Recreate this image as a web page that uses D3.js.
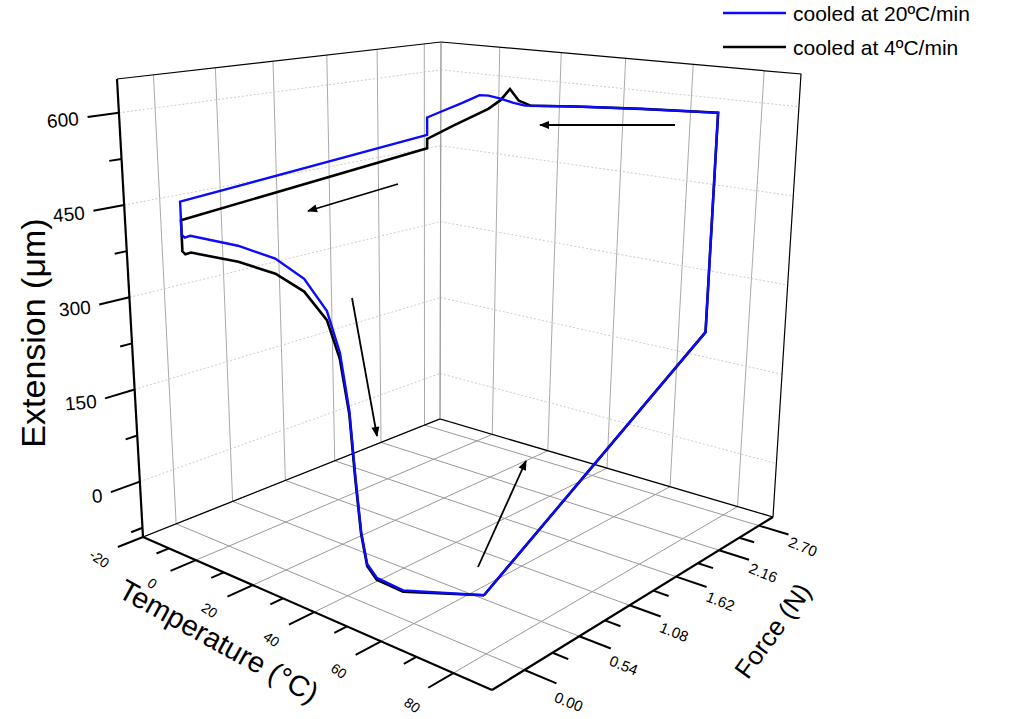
<!DOCTYPE html>
<html><head><meta charset="utf-8">
<script src="https://cdn.jsdelivr.net/npm/d3@7"></script>
<style>body{margin:0;background:#fff}text{font-family:"Liberation Sans",Arial,sans-serif}</style>
</head><body><svg id="c" width="1024" height="719"></svg>
<script>
// axis domains
var tempDomain = [-20, 90], forceDomain = [-0.3, 2.9], extDomain = [-90, 655];
var tempTicks = [-20, 0, 20, 40, 60, 80];
var forceTicks = [0.00, 0.54, 1.08, 1.62, 2.16, 2.70];
var extTicks = [0, 150, 300, 450, 600];

// series: [temperature, force, extension]
var cooled4 = [
  [72,0.25,-45],[72,2.7,208],[72,2.7,583],[50,2.7,575],[30,2.7,566],[16,2.7,558],[12,2.7,565],
  [9,2.7,585],[6,2.7,562],[2,2.7,543],[-10,2.7,502],[-19,2.7,470],[-19,2.7,452],
  [-19,0.15,409],[-19,0.15,357],[-18,0.15,353],[-16,0.15,358],[0,0.15,360],[12,0.15,354],
  [21,0.15,336],[28,0.15,300],[32,0.15,245],[35,0.15,165],[37,0.15,70],[39,0.15,-10],
  [41,0.15,-55],[44,0.15,-70],[52,0.15,-72],[72,0.25,-45]
];
var cooled20 = [
  [72,0.25,-45],[72,2.7,208],[72,2.7,583],[50,2.7,575],[30,2.7,566],[14,2.7,557],[10,2.7,560],
  [6,2.7,565],[2,2.7,568],[-1,2.7,567],[-7,2.7,548],[-14,2.7,527],[-19,2.7,512],[-19,2.7,478],
  [-19,0.15,440],[-19,0.15,385],[-18,0.15,381],[-16,0.15,386],[0,0.15,386],[12,0.15,378],
  [21,0.15,356],[28,0.15,314],[32,0.15,255],[35,0.15,170],[37,0.15,75],[39,0.15,-7],
  [41,0.15,-52],[44,0.15,-67],[52,0.15,-70],[72,0.25,-45]
];
var legendLabels = ["cooled at 20ºC/min", "cooled at 4ºC/min"];
var seriesColors = ["#0a0aff", "#000"];

// box corners on screen: floor and top plane (u = temperature, v = force)
var floorQuad = [[143,537],[492,690],[773,517],[440,419]];
var topQuad = [[117,79],[515,126],[801,74],[441,42]];

function homography(q) {
  var x0=q[0][0],y0=q[0][1],x1=q[1][0],y1=q[1][1],x2=q[2][0],y2=q[2][1],x3=q[3][0],y3=q[3][1];
  var dx1=x1-x2,dx2=x3-x2,dx3=x0-x1+x2-x3,dy1=y1-y2,dy2=y3-y2,dy3=y0-y1+y2-y3;
  var den=dx1*dy2-dx2*dy1;
  var g=(dx3*dy2-dx2*dy3)/den, h=(dx1*dy3-dx3*dy1)/den;
  var a=x1-x0+g*x1,b=x3-x0+h*x3,d=y1-y0+g*y1,e=y3-y0+h*y3;
  return function(u,v){var w=g*u+h*v+1;return [(a*u+b*v+x0)/w,(d*u+e*v+y0)/w];};
}
var hFloor = homography(floorQuad), hTop = homography(topQuad);
var u = d3.scaleLinear().domain(tempDomain).range([0,1]);
var v = d3.scaleLinear().domain(forceDomain).range([0,1]);
var w = d3.scaleLinear().domain(extDomain).range([0,1]);
function proj(t,f,e){
  var a=hFloor(u(t),v(f)), b=hTop(u(t),v(f)), k=w(e);
  return [a[0]+(b[0]-a[0])*k, a[1]+(b[1]-a[1])*k];
}
var line = d3.line().x(function(p){return proj(p[0],p[1],p[2])[0];}).y(function(p){return proj(p[0],p[1],p[2])[1];});

var svg = d3.select("#c");
var T0=tempDomain[0],T1=tempDomain[1],F0=forceDomain[0],F1=forceDomain[1],E0=extDomain[0],E1=extDomain[1];
function seg(pts, stroke, sw, dash){
  svg.append("path").attr("d", line(pts)).attr("fill","none").attr("stroke",stroke)
    .attr("stroke-width",sw).attr("stroke-dasharray",dash||null);
}
// walls
forceTicks.forEach(function(f){ seg([[T0,f,E0],[T0,f,E1]], "#aaa", 1); });
tempTicks.forEach(function(t){ seg([[t,F1,E0],[t,F1,E1]], "#aaa", 1); });
extTicks.forEach(function(e){
  seg([[T0,F0,e],[T0,F1,e]], "#ccc", 1, "2,2");
  seg([[T0,F1,e],[T1,F1,e]], "#ccc", 1, "2,2");
});
// floor grid
tempTicks.forEach(function(t){ seg([[t,F0,E0],[t,F1,E0]], "#999", 1); });
forceTicks.forEach(function(f){ seg([[T0,f,E0],[T1,f,E0]], "#999", 1); });
// box edges
seg([[T0,F0,E0],[T0,F1,E0],[T1,F1,E0]], "#000", 1.3);
seg([[T0,F0,E1],[T0,F1,E1],[T1,F1,E1],[T1,F1,E0]], "#000", 1.2);
seg([[T0,F1,E0],[T0,F1,E1]], "#999", 1);
// axes
seg([[T0,F0,E0],[T0,F0,E1]], "#000", 2.2);
seg([[T0,F0,E0],[T1,F0,E0]], "#000", 2.2);
seg([[T1,F0,E0],[T1,F1,E0]], "#000", 2.2);

// extension ticks
d3.range(-75, 651, 75).forEach(function(e){
  var major = extTicks.indexOf(e) >= 0;
  seg([[T0,F0,e],[T0,F0-(major?0.25:0.1),e]], "#000", 2);
  if (major) {
    var p = proj(T0,F0-0.32,e);
    svg.append("text").attr("x",p[0]).attr("y",p[1]+7).attr("text-anchor","end")
      .attr("font-size",19).attr("transform","rotate(-5,"+p[0]+","+p[1]+")").text(e);
  }
});
// temperature ticks
d3.range(-20, 81, 10).forEach(function(t){
  var major = tempTicks.indexOf(t) >= 0;
  seg([[t,F0,E0],[t,F0-(major?0.22:0.11),E0]], "#000", 2);
  if (major) {
    var p = proj(t+2,F0-0.42,E0);
    svg.append("text").attr("x",p[0]).attr("y",p[1]+5).attr("text-anchor","middle")
      .attr("font-size",14).attr("transform","rotate(35,"+p[0]+","+p[1]+")").text(t);
  }
});
// force ticks
d3.range(0, 2.71, 0.27).forEach(function(f){
  var major = forceTicks.some(function(x){return Math.abs(x-f)<1e-6;});
  seg([[T1,f,E0],[T1+(major?8:4),f,E0]], "#000", 2);
  if (major) {
    var p = proj(T1+14,f-0.12,E0);
    svg.append("text").attr("x",p[0]).attr("y",p[1]+5).attr("text-anchor","middle")
      .attr("font-size",15).attr("transform","rotate(22,"+p[0]+","+p[1]+")").text(d3.format(".2f")(f));
  }
});
// axis titles
function title(x,y,rot,txt,size){
  svg.append("text").attr("x",x).attr("y",y).attr("text-anchor","middle").attr("font-size",size)
    .attr("transform","rotate("+rot+","+x+","+y+")").text(txt);
}
title(45,333,-90,"Extension (μm)",34);
title(214,650,29,"Temperature (°C)",29);
title(780,636,-54,"Force (N)",26);

// curves
seg(cooled4, seriesColors[1], 2.6);
seg(cooled20, seriesColors[0], 2.4);

// direction arrows (screen annotations)
var arrows = [[[675,125],[540,125]],[[398,184],[308,211]],[[352,298],[377,436]],[[478,567],[526,461]]];
svg.append("defs").append("marker").attr("id","ah").attr("viewBox","0 0 10 10").attr("refX",9).attr("refY",5)
  .attr("markerWidth",14).attr("markerHeight",10).attr("markerUnits","userSpaceOnUse").attr("orient","auto")
  .append("path").attr("d","M0,1L10,5L0,9z").attr("fill","#000");
arrows.forEach(function(a){
  svg.append("line").attr("x1",a[0][0]).attr("y1",a[0][1]).attr("x2",a[1][0]).attr("y2",a[1][1])
    .attr("stroke","#000").attr("stroke-width",1.8).attr("marker-end","url(#ah)");
});

// legend
legendLabels.forEach(function(l,i){
  var y = 13 + i*34;
  svg.append("line").attr("x1",723).attr("x2",786).attr("y1",y).attr("y2",y)
    .attr("stroke",seriesColors[i]).attr("stroke-width",2.5);
  svg.append("text").attr("x",793).attr("y",y+8).attr("font-size",21).text(l);
});
</script></body></html>
